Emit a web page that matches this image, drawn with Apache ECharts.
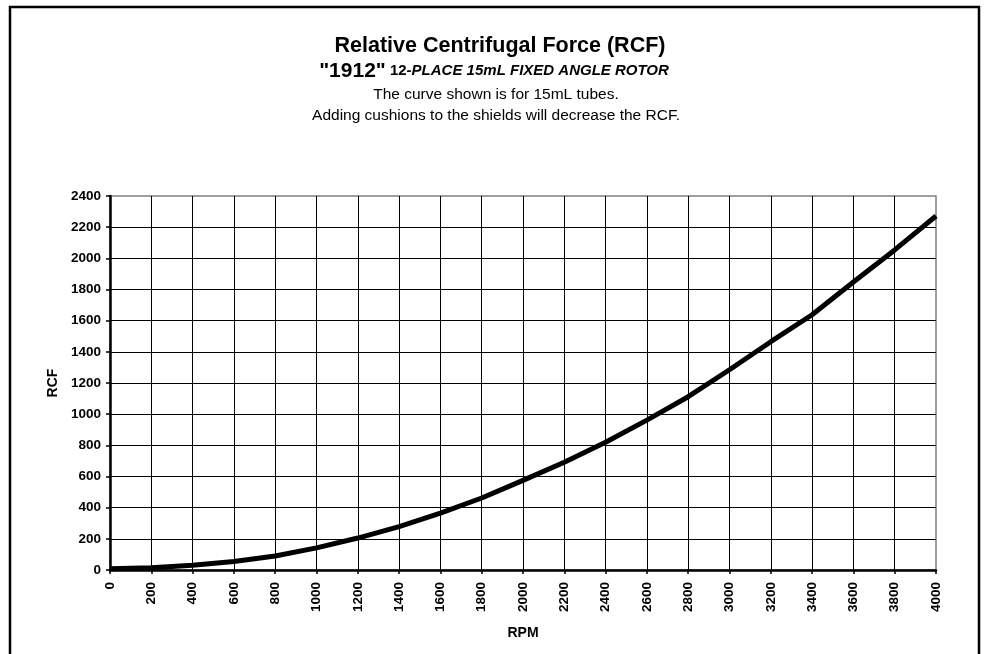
<!DOCTYPE html>
<html>
<head>
<meta charset="utf-8">
<script src="https://cdn.jsdelivr.net/npm/echarts@6/dist/echarts.min.js"></script>
<style>
html,body{margin:0;padding:0;background:#fff;}
#chart{width:987px;height:654px;}
</style>
</head>
<body>
<div id="chart"></div>
<script>
const rpm = [0,200,400,600,800,1000,1200,1400,1600,1800,2000,2200,2400,2600,2800,3000,3200,3400,3600,3800,4000];
const rcf = [8,14,30,55,90,142,205,278,365,462,575,692,820,962,1112,1285,1465,1638,1848,2054,2272];
const titleText = 'Relative Centrifugal Force (RCF)';
const modelText = '"1912"';
const placeText = ' 12';
const rotorText = '-PLACE 15mL FIXED ANGLE ROTOR';
const note1 = 'The curve shown is for 15mL tubes.';
const note2 = 'Adding cushions to the shields will decrease the RCF.';
const xName = 'RPM';
const yName = 'RCF';

const FONT = '"Liberation Sans", Arial, sans-serif';
const chart = echarts.init(document.getElementById('chart'));
chart.setOption({
  animation: false,
  backgroundColor: '#fff',
  graphic: [
    {type:'rect', shape:{x:10, y:7, width:969, height:660}, style:{fill:'none', stroke:'#000', lineWidth:2.5}, z:-1},
    {type:'text', x:500, y:46, style:{text:titleText, font:'bold 21.5px '+FONT, fill:'#000', textAlign:'center', textVerticalAlign:'middle'}},
    {type:'text', x:494, y:71, style:{
      text:'{a|'+modelText+'}{c|'+placeText+'}{b|'+rotorText+'}', textAlign:'center', textVerticalAlign:'middle',
      rich:{a:{font:'bold 21px '+FONT, fill:'#000'}, c:{font:'bold 15px '+FONT, fill:'#000'}, b:{font:'italic bold 15px '+FONT, fill:'#000'}}
    }},
    {type:'text', x:496, y:95, style:{text:note1, font:'15.5px '+FONT, fill:'#000', textAlign:'center', textVerticalAlign:'middle'}},
    {type:'text', x:496, y:116, style:{text:note2, font:'15.5px '+FONT, fill:'#000', textAlign:'center', textVerticalAlign:'middle'}}
  ],
  grid: {left:110, top:196, right:51, bottom:84, show:true, borderColor:'#808080', borderWidth:1.5, containLabel:false},
  xAxis: {
    type:'value', min:0, max:4000, interval:200,
    name:xName, nameLocation:'middle', nameGap:56,
    nameTextStyle:{fontFamily:FONT, fontWeight:'bold', fontSize:14, color:'#000'},
    axisLine:{show:true, onZero:false, lineStyle:{color:'#000', width:2.5}},
    axisTick:{show:true, length:4, lineStyle:{color:'#000', width:1.5}},
    axisLabel:{rotate:90, margin:12, fontFamily:FONT, fontWeight:'bold', fontSize:13.5, color:'#000', showMinLabel:true, showMaxLabel:true, formatter: v => String(v)},
    splitLine:{show:true, showMinLine:false, showMaxLine:false, lineStyle:{color:'#000', width:1}}
  },
  yAxis: {
    type:'value', min:0, max:2400, interval:200,
    name:yName, nameLocation:'middle', nameGap:48, nameRotate:90,
    nameTextStyle:{fontFamily:FONT, fontWeight:'bold', fontSize:14, color:'#000'},
    axisLine:{show:true, onZero:false, lineStyle:{color:'#000', width:2.5}},
    axisTick:{show:true, length:4, lineStyle:{color:'#000', width:1.5}},
    axisLabel:{margin:9, fontFamily:FONT, fontWeight:'bold', fontSize:13.5, color:'#000', showMinLabel:true, showMaxLabel:true, formatter: v => String(v)},
    splitLine:{show:true, showMinLine:false, showMaxLine:false, lineStyle:{color:'#000', width:1}}
  },
  series: [{
    type:'line', data: rpm.map((r,i)=>[r, rcf[i]]),
    showSymbol:false, symbol:'none', smooth:false,
    lineStyle:{color:'#000', width:5}, z:5
  }]
});
</script>
</body>
</html>
